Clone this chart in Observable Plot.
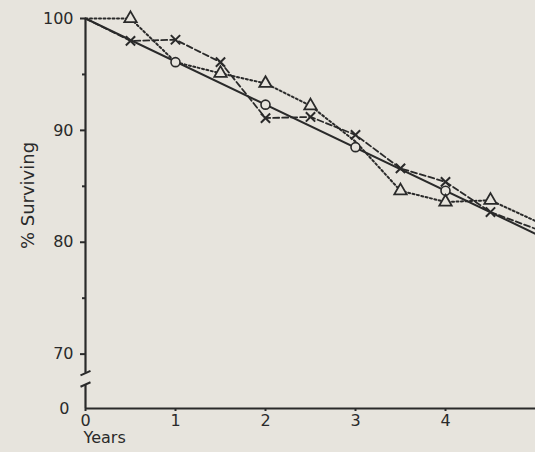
<!DOCTYPE html>
<html><head><meta charset="utf-8">
<script src="https://cdn.jsdelivr.net/npm/d3@7"></script>
<script src="https://cdn.jsdelivr.net/npm/@observablehq/plot@0.6"></script>
<style>html,body{margin:0;padding:0;background:#e7e4dd;} svg{display:block;background:#e7e4dd}</style>
</head><body><div id="chart"></div>
<script>
// Fitted (solid) line
const fitYears = [0, 5];
const fitValues = [100, 80.75];
// Open circles on the fitted line
const circleYears = [1, 2, 3, 4];
const circleValues = [96.1, 92.3, 88.5, 84.6];
// X series (dashed)
const crossYears  = [0, 0.5, 1, 1.5, 2, 2.5, 3, 3.5, 4, 4.5, 5];
const crossValues = [100, 98.0, 98.1, 96.1, 91.1, 91.2, 89.6, 86.6, 85.4, 82.7, 81.2];
const crossMarked = [false, true, true, true, true, true, true, true, true, true, false];
// Triangle series (dotted)
const triYears  = [0, 0.5, 1, 1.5, 2, 2.5, 3, 3.5, 4, 4.5, 5];
const triValues = [100, 100, 96.1, 95.1, 94.2, 92.2, 89.0, 84.6, 83.6, 83.75, 81.9];
const triMarked = [false, true, false, true, true, true, false, true, true, true, false];
// Axis ticks
const xTicks = [0, 1, 2, 3, 4];
const yMajor = [70, 80, 90, 100];
const yMinor = [75, 85, 95];
const yZero = [0];
// Broken y axis pieces (data units)
const yAxisUpper = [68.3, 100];
const yAxisLower = [0, 51];
const yBreak = 68;          // values below this are compressed
const yBreakSpan = 2.86;    // compressed span (in upper-scale units) for 0..yBreak

const ink = "#2a2a2a";
const paper = "#e7e4dd";
const font = "DejaVu Sans";

const fit = fitYears.map((x, i) => ({x, y: fitValues[i]}));
const circles = circleYears.map((x, i) => ({x, y: circleValues[i]}));
const cross = crossYears.map((x, i) => ({x, y: crossValues[i], m: crossMarked[i]}));
const tri = triYears.map((x, i) => ({x, y: triValues[i], m: triMarked[i]}));
const axisPieces = [{y1: yAxisUpper[0], y2: yAxisUpper[1]}, {y1: yAxisLower[0], y2: yAxisLower[1]}];
const breaks = [{y: yAxisUpper[0]}, {y: yAxisLower[1]}];

const brk = v => v >= yBreak ? v : yBreak - (yBreak - v) * yBreakSpan / yBreak;
const slash = {draw(ctx, size) { const r = Math.sqrt(size / Math.PI); ctx.moveTo(-r, r * 0.45); ctx.lineTo(r, -r * 0.45); }};

const chart = Plot.plot({
  width: 535, height: 452,
  marginLeft: 85, marginRight: 0, marginTop: 18, marginBottom: 44,
  style: {fontFamily: font, fontSize: "16px", color: ink, background: paper},
  x: {domain: [0, 5]},
  y: {transform: brk, domain: [brk(0), 100]},
  marks: [
    Plot.ruleY([0], {stroke: ink, strokeWidth: 2.2}),
    Plot.ruleX(axisPieces, {x: 0, y1: "y1", y2: "y2", stroke: ink, strokeWidth: 2.2}),
    Plot.dot(breaks, {x: 0, y: "y", symbol: slash, r: 5, stroke: ink, strokeWidth: 2}),
    Plot.axisY({ticks: yMajor, tickSize: 5, tickPadding: 7, tickFormat: d => d, label: null, stroke: ink, strokeWidth: 2, fill: ink, fontSize: 16}),
    Plot.axisY({ticks: yMinor, tickSize: 3, text: null, label: null, stroke: ink, strokeWidth: 2}),
    Plot.text(yZero, {x: 0, y: d => d, text: d => String(d), dx: -16, textAnchor: "end", fill: ink, fontSize: 16}),
    Plot.axisX({ticks: xTicks, tickSize: 3, tickPadding: 3, tickFormat: d => d, label: null, stroke: ink, strokeWidth: 2, fill: ink, fontSize: 16}),
    Plot.text(["% Surviving"], {frameAnchor: "left", dx: -57, dy: -18, rotate: -90, textAnchor: "middle", fill: ink, fontSize: 18}),
    Plot.text(["Years"], {frameAnchor: "bottom-left", dx: -2, dy: 29, textAnchor: "start", lineAnchor: "middle", fill: ink, fontSize: 16}),
    Plot.line(fit, {x: "x", y: "y", stroke: ink, strokeWidth: 2}),
    Plot.line(cross, {x: "x", y: "y", stroke: ink, strokeWidth: 1.8, strokeDasharray: "6,3"}),
    Plot.line(tri, {x: "x", y: "y", stroke: ink, strokeWidth: 2, strokeDasharray: "2,2.5"}),
    Plot.dot(circles, {x: "x", y: "y", r: 4.5, stroke: ink, strokeWidth: 1.6, fill: paper}),
    Plot.dot(cross.filter(d => d.m), {x: "x", y: "y", symbol: "times", r: 4.3, stroke: ink, strokeWidth: 2}),
    Plot.dot(tri.filter(d => d.m), {x: "x", y: "y", symbol: "triangle", r: 4.6, stroke: ink, strokeWidth: 1.8, fill: paper})
  ]
});
document.getElementById("chart").appendChild(chart);
</script>
</body></html>
